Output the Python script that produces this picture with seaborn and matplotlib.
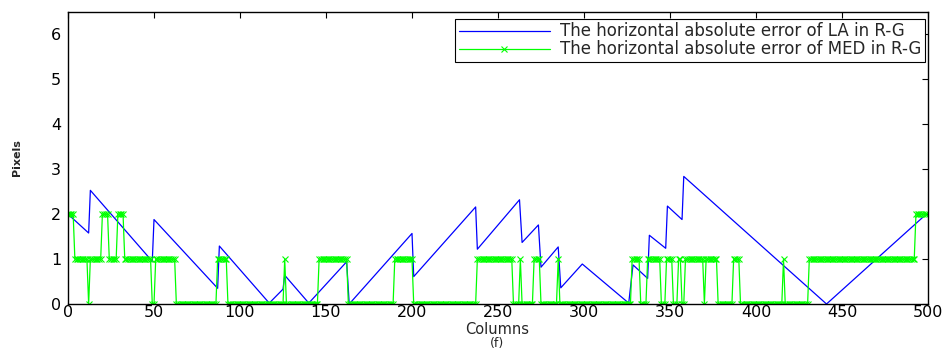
import numpy as np
import pandas as pd
import matplotlib
matplotlib.use("Agg")
import matplotlib.pyplot as plt
import seaborn as sns

# ---- data ----
# LA absolute error (blue): vertices of the sawtooth curve
la_cols = [0, 12, 13, 49, 50, 87, 88, 117, 125, 126, 140, 162, 163.5, 200, 201,
           237, 238, 262.5, 264, 273.5, 275, 285, 286.5, 299, 326, 328.5, 337, 338,
           347.5, 348.5, 357, 358, 441, 499]
la_err = [2.0, 1.58, 2.53, 0.95, 1.88, 0.35, 1.29, 0.02, 0.33, 0.64, 0.02, 0.94, 0.0,
          1.57, 0.61, 2.16, 1.22, 2.32, 1.37, 1.76, 0.82, 1.27, 0.36, 0.89, 0.02, 0.87,
          0.57, 1.53, 1.24, 2.18, 1.88, 2.84, 0.0, 2.0]

# MED absolute error (green): integer values per column, given as runs
med_run_start = [0, 4, 12, 13, 20, 24, 29, 33, 49, 51, 63, 87, 93, 126, 127, 146, 163,
                 190, 201, 238, 259, 263, 264, 271, 275, 285, 286, 328, 333, 337, 345,
                 348, 352, 355, 357, 359, 370, 371, 378, 387, 391, 416, 417, 431, 493]
med_run_value = [2, 1, 0, 1, 2, 1, 2, 1, 0, 1, 0, 1, 0, 1, 0, 1, 0,
                 1, 0, 1, 0, 1, 0, 1, 0, 1, 0, 1, 0, 1, 0,
                 1, 0, 1, 0, 1, 0, 1, 0, 1, 0, 1, 0, 1, 2]
n_cols = 500

x_ticks = [0, 50, 100, 150, 200, 250, 300, 350, 400, 450, 500]
y_ticks = [0, 1, 2, 3, 4, 5, 6]

label_la = "The horizontal absolute error of LA in R-G"
label_med = "The horizontal absolute error of MED in R-G"

# ---- build tables ----
run_len = np.diff(med_run_start + [n_cols])
med_vals = np.repeat(med_run_value, run_len)
df_la = pd.DataFrame({"col": la_cols, "err": la_err})
df_med = pd.DataFrame({"col": np.arange(n_cols), "err": med_vals})

sns.set_style("white")
plt.rcParams["font.family"] = ["DejaVu Sans"]

fig = plt.figure(figsize=(9.48, 3.49), dpi=100)
ax = fig.add_axes([68 / 948, 45 / 349, 860 / 948, 292 / 349])

sns.lineplot(data=df_la, x="col", y="err", ax=ax, color=(0, 0, 1), lw=0.9,
             label=label_la, sort=False, estimator=None)
sns.lineplot(data=df_med, x="col", y="err", ax=ax, color=(0, 1, 0), lw=0.9,
             marker="x", markersize=4, markeredgewidth=0.8, markeredgecolor=(0, 1, 0),
             label=label_med, sort=False, estimator=None)

ax.set_xlim(0, 500)
ax.set_ylim(0, 6.5)
ax.set_xticks(x_ticks)
ax.set_yticks(y_ticks)
ax.tick_params(direction="in", length=4, width=0.8, top=True, right=True,
               labelsize=11.5, colors="black")
ax.tick_params(axis="x", pad=1)
ax.tick_params(axis="y", pad=5)
for s in ax.spines.values():
    s.set_color("black")
    s.set_linewidth(1.0)

ax.set_xlabel("Columns", fontsize=10.5)
ax.xaxis.set_label_coords(497 / 948, 1 - 330 / 349, transform=fig.transFigure)
ax.xaxis.label.set_va("center")
fig.text(497 / 948, 1 - 343 / 349, "(f)", fontsize=9, ha="center", va="center")
ax.set_ylabel("Pixels", fontsize=8, fontweight="bold")
ax.yaxis.set_label_coords(-0.054, 0.5)

leg = ax.legend(loc="upper right", bbox_to_anchor=(0.9965, 0.976), fontsize=12,
                frameon=True, fancybox=False, edgecolor="black", framealpha=1,
                handlelength=5.5, numpoints=1, borderpad=0.2, labelspacing=0.0,
                handletextpad=0.6, borderaxespad=0)
leg.get_frame().set_linewidth(0.8)

fig.savefig("out.png", dpi=100)
